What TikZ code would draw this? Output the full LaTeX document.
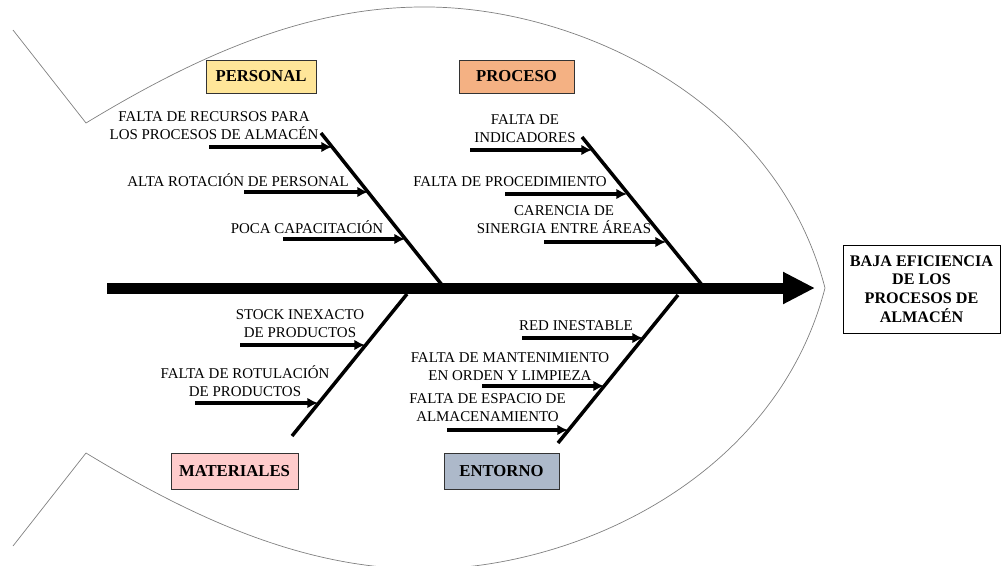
\documentclass[tikz,border=0pt]{standalone}
\usepackage{fontspec}
\setmainfont{Liberation Serif}
\usetikzlibrary{arrows.meta}
\definecolor{personalfill}{HTML}{FFE699}
\definecolor{procesofill}{HTML}{F4B183}
\definecolor{materialfill}{HTML}{FFCCCC}
\definecolor{entornofill}{HTML}{ADB9CA}
\tikzset{
  cause/.style={align=center, inner sep=0pt, font=\fontsize{8.5}{10.2}\selectfont},
  category/.style={draw=black!80, thin, inner sep=0pt, font=\fontsize{9.5}{11}\selectfont\bfseries},
  effectbox/.style={draw, thin, align=center, inner sep=0pt, minimum width=3.14cm, minimum height=1.76cm, font=\fontsize{9.2}{10.6}\selectfont\bfseries},
  bone/.style={line width=2pt},
  subcause/.style={line width=2pt, -{Latex[length=6pt,width=6pt]}},
}
\begin{document}
\begin{tikzpicture}[x=0.02cm, y=-0.02cm]
            \useasboundingbox (0,0) rectangle (1001,565);
            % contorno del pez
            \draw[gray, thin] (13,30) -- (86,123) .. controls (190,60) and (300,8) .. (420,7)
                .. controls (570,5) and (775,95) .. (825,288)
                .. controls (775,481) and (570,571) .. (420,569)
                .. controls (300,568) and (190,516) .. (86,453) -- (13,546);
            % espina central y efecto
            \coordinate (tail) at (107,288);
            \coordinate (head) at (815,288);
            \node[effectbox] (effect) at (921.5,289) {BAJA EFICIENCIA\\DE LOS\\PROCESOS DE\\ALMACÉN};
            \draw[line width=0.22cm, -{Triangle[length=0.64cm, width=0.6cm]}] (tail) -- (head);
            % categorias
            \node[category, fill=personalfill, minimum width=2.2cm, minimum height=0.66cm] (personal) at (261,76.5) {PERSONAL};
            \node[category, fill=procesofill, minimum width=2.3cm, minimum height=0.66cm] (proceso) at (516.5,76.5) {PROCESO};
            \node[category, fill=materialfill, minimum width=2.54cm, minimum height=0.72cm] (materiales) at (234.5,471) {MATERIALES};
            \node[category, fill=entornofill, minimum width=2.3cm, minimum height=0.72cm] (entorno) at (501.5,471) {ENTORNO};
            % espinas
            \coordinate (pertop) at (321,133);  \coordinate (perbot) at (442,285);
            \coordinate (protop) at (582,137);  \coordinate (probot) at (702,285);
            \coordinate (mattop) at (407,294);  \coordinate (matbot) at (292,436);
            \coordinate (enttop) at (678,295);  \coordinate (entbot) at (558,443);
            \draw[bone] (pertop) -- (perbot);
            \draw[bone] (protop) -- (probot);
            \draw[bone] (mattop) -- (matbot);
            \draw[bone] (enttop) -- (entbot);
            % causas: personal
            \node[cause] (per1) at (214,126) {FALTA DE RECURSOS PARA\\LOS PROCESOS DE ALMACÉN};
            \node[cause] (per2) at (238,180) {ALTA ROTACIÓN DE PERSONAL};
            \node[cause] (per3) at (307,227) {POCA CAPACITACIÓN};
            \coordinate (per1s) at (209,147);  \coordinate (per1e) at (332,147);
            \coordinate (per2s) at (244,192);  \coordinate (per2e) at (368,192);
            \coordinate (per3s) at (283,239);  \coordinate (per3e) at (405,239);
            % causas: proceso
            \node[cause] (pro1) at (525,128.5) {FALTA DE\\INDICADORES};
            \node[cause] (pro2) at (510,182) {FALTA DE PROCEDIMIENTO};
            \node[cause] (pro3) at (564,220) {CARENCIA DE\\SINERGIA ENTRE ÁREAS};
            \coordinate (pro1s) at (470,150);  \coordinate (pro1e) at (592,150);
            \coordinate (pro2s) at (505,194);  \coordinate (pro2e) at (627,194);
            \coordinate (pro3s) at (544,242);  \coordinate (pro3e) at (666,242);
            % causas: materiales
            \node[cause] (mat1) at (300,324) {STOCK INEXACTO\\DE PRODUCTOS};
            \node[cause] (mat2) at (245,381.5) {FALTA DE ROTULACIÓN\\DE PRODUCTOS};
            \coordinate (mat1s) at (240,345);  \coordinate (mat1e) at (365,345);
            \coordinate (mat2s) at (195,403);  \coordinate (mat2e) at (318,403);
            % causas: entorno
            \node[cause] (ent1) at (576,326) {RED INESTABLE};
            \node[cause] (ent2) at (510,367) {FALTA DE MANTENIMIENTO\\EN ORDEN Y LIMPIEZA};
            \node[cause] (ent3) at (487.5,407.5) {FALTA DE ESPACIO DE\\ALMACENAMIENTO};
            \coordinate (ent1s) at (522,338);  \coordinate (ent1e) at (643,338);
            \coordinate (ent2s) at (482,386);  \coordinate (ent2e) at (604,386);
            \coordinate (ent3s) at (447,430);  \coordinate (ent3e) at (568,430);
            % flechas
            \foreach \c in {per1,per2,per3,pro1,pro2,pro3,mat1,mat2,ent1,ent2,ent3} {
                \draw[subcause] (\c s) -- (\c e);
            }
        \end{tikzpicture}
\end{document}
